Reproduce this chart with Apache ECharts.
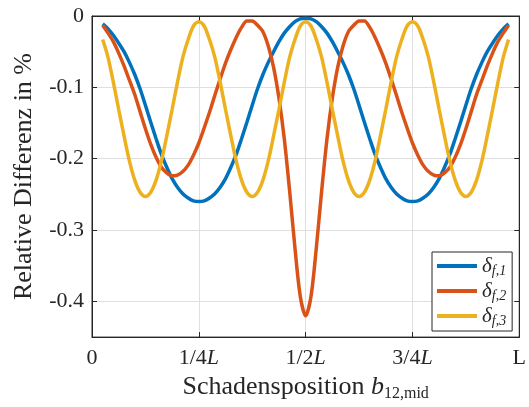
<!DOCTYPE html>
<html>
<head>
<meta charset="utf-8">
<script src="https://cdn.jsdelivr.net/npm/echarts@6/dist/echarts.min.js"></script>
<style>
  html, body { margin: 0; padding: 0; background: #fff; }
  #chart { width: 529px; height: 407px; }
</style>
</head>
<body>
<div id="chart"></div>
<script>
// ---- data (x in units of L, y in %) ----
const xTicks = [0, 0.25, 0.5, 0.75, 1];
const xTickLabels = ['0', '1/4L', '1/2L', '3/4L', 'L'];
const yTicks = [0, -0.1, -0.2, -0.3, -0.4];

const xPos = [0.025, 0.0375, 0.05, 0.0625, 0.075, 0.0875, 0.1, 0.1125, 0.125, 0.1375,
  0.15, 0.1625, 0.175, 0.1875, 0.2, 0.2125, 0.225, 0.2375, 0.25, 0.2625,
  0.275, 0.2875, 0.3, 0.3125, 0.325, 0.3375, 0.35, 0.3625, 0.375, 0.3875,
  0.4, 0.4125, 0.425, 0.4375, 0.45, 0.4625, 0.475, 0.4875, 0.5, 0.5125,
  0.525, 0.5375, 0.55, 0.5625, 0.575, 0.5875, 0.6, 0.6125, 0.625, 0.6375,
  0.65, 0.6625, 0.675, 0.6875, 0.7, 0.7125, 0.725, 0.7375, 0.75, 0.7625,
  0.775, 0.7875, 0.8, 0.8125, 0.825, 0.8375, 0.85, 0.8625, 0.875, 0.8875,
  0.9, 0.9125, 0.925, 0.9375, 0.95, 0.9625, 0.975];

const deltaF1 = [-0.011, -0.018, -0.027, -0.038, -0.050, -0.065, -0.082, -0.102, -0.125, -0.149,
  -0.172, -0.194, -0.212, -0.228, -0.240, -0.249, -0.255, -0.259, -0.260, -0.259,
  -0.255, -0.249, -0.240, -0.228, -0.212, -0.194, -0.172, -0.149, -0.125, -0.102,
  -0.082, -0.065, -0.050, -0.036, -0.024, -0.015, -0.008, -0.004, -0.003, -0.004,
  -0.008, -0.015, -0.024, -0.036, -0.050, -0.065, -0.082, -0.102, -0.125, -0.149,
  -0.172, -0.194, -0.212, -0.228, -0.240, -0.249, -0.255, -0.259, -0.260, -0.259,
  -0.255, -0.249, -0.240, -0.228, -0.212, -0.194, -0.172, -0.149, -0.125, -0.102,
  -0.082, -0.065, -0.050, -0.038, -0.027, -0.018, -0.011];

const deltaF2 = [-0.013, -0.024, -0.036, -0.052, -0.070, -0.090, -0.110, -0.134, -0.158, -0.180,
  -0.198, -0.212, -0.220, -0.224, -0.223, -0.218, -0.209, -0.195, -0.178, -0.157,
  -0.135, -0.111, -0.088, -0.066, -0.047, -0.030, -0.016, -0.007, -0.007, -0.013,
  -0.022, -0.042, -0.072, -0.115, -0.172, -0.245, -0.325, -0.393, -0.420, -0.393,
  -0.325, -0.245, -0.172, -0.115, -0.072, -0.042, -0.022, -0.013, -0.007, -0.007,
  -0.016, -0.030, -0.047, -0.066, -0.088, -0.111, -0.135, -0.157, -0.178, -0.195,
  -0.209, -0.218, -0.223, -0.224, -0.220, -0.212, -0.198, -0.180, -0.158, -0.134,
  -0.110, -0.090, -0.070, -0.052, -0.036, -0.024, -0.013];

const deltaF3 = [-0.033, -0.058, -0.093, -0.131, -0.168, -0.203, -0.230, -0.247, -0.253, -0.247,
  -0.230, -0.203, -0.168, -0.131, -0.093, -0.058, -0.033, -0.014, -0.008, -0.014,
  -0.033, -0.058, -0.093, -0.131, -0.168, -0.203, -0.230, -0.247, -0.253, -0.247,
  -0.230, -0.203, -0.168, -0.131, -0.093, -0.058, -0.033, -0.014, -0.008, -0.014,
  -0.033, -0.058, -0.093, -0.131, -0.168, -0.203, -0.230, -0.247, -0.253, -0.247,
  -0.230, -0.203, -0.168, -0.131, -0.093, -0.058, -0.033, -0.014, -0.008, -0.014,
  -0.033, -0.058, -0.093, -0.131, -0.168, -0.203, -0.230, -0.247, -0.253, -0.247,
  -0.230, -0.203, -0.168, -0.131, -0.093, -0.058, -0.033];

const seriesNames = ['δf,1', 'δf,2', 'δf,3'];
const seriesSubs = ['f,1', 'f,2', 'f,3'];
const colors = ['#0072BD', '#D95319', '#EDB120'];

// ---- chart ----
const FONT = 'Liberation Serif';
const TXT = '#262626';
const chart = echarts.init(document.getElementById('chart'), null, { renderer: 'canvas' });

const pairs = (xs, ys) => xs.map((x, i) => [x, -ys[i]]); // y axis is inverted (shows negative values)

const xCommon = {
  type: 'value', min: 0, max: 1, interval: 0.25, gridIndex: 0,
  axisLine: { show: true, onZero: false, lineStyle: { color: TXT, width: 1 } },
  axisTick: { show: true, inside: true, length: 5, lineStyle: { color: TXT, width: 1 } }
};
const yCommon = {
  type: 'value', inverse: true, min: 0, max: 0.45, interval: 0.1, gridIndex: 0,
  axisLine: { show: true, onZero: false, lineStyle: { color: TXT, width: 1 } },
  axisTick: { show: true, inside: true, length: 5, lineStyle: { color: TXT, width: 1 } }
};

const lineSeries = [
  { name: seriesNames[0], data: pairs(xPos, deltaF1) },
  { name: seriesNames[1], data: pairs(xPos, deltaF2) },
  { name: seriesNames[2], data: pairs(xPos, deltaF3) }
].map((s, i) => Object.assign(s, {
  type: 'line', xAxisIndex: 0, yAxisIndex: 0,
  smooth: 0.3, showSymbol: false, symbol: 'none', clip: false,
  lineStyle: { color: colors[i], width: 3.5 },
  itemStyle: { color: colors[i] }
}));

const option = {
  backgroundColor: '#ffffff',
  animation: false,
  grid: { left: 92, right: 5, top: 16, bottom: 67, show: true, borderColor: TXT, borderWidth: 1, backgroundColor: 'transparent' },
  xAxis: [
    Object.assign({}, xCommon, {
      position: 'bottom',
      splitLine: { show: true, lineStyle: { color: '#dfdfdf', width: 1 } },
      axisLabel: {
        margin: 10, color: TXT, fontFamily: FONT, fontSize: 22,
        formatter: function (v) {
          const idx = xTicks.findIndex(t => Math.abs(t - v) < 1e-9);
          if (idx < 0) return '';
          const lab = xTickLabels[idx];
          if (lab === '0' || lab === 'L') return '{n|' + lab + '}';
          return '{n|' + lab.slice(0, -1) + '}{i|L}';
        },
        rich: {
          n: { fontFamily: FONT, fontSize: 22, color: TXT },
          i: { fontFamily: FONT, fontSize: 22, color: TXT, fontStyle: 'italic' }
        }
      },
      name: '{t|Schadensposition }{b|b}{s|12,mid}',
      nameLocation: 'middle', nameGap: 28,
      nameTextStyle: {
        color: TXT, fontFamily: FONT, fontSize: 26,
        rich: {
          t: { fontFamily: FONT, fontSize: 26, color: TXT, lineHeight: 28, verticalAlign: 'top' },
          b: { fontFamily: FONT, fontSize: 26, color: TXT, lineHeight: 28, verticalAlign: 'top', fontStyle: 'italic' },
          s: { fontFamily: FONT, fontSize: 16, color: TXT, lineHeight: 18, padding: [12, 0, 0, 0] }
        }
      }
    }),
    Object.assign({}, xCommon, {
      position: 'top',
      splitLine: { show: false },
      axisLabel: { show: false }
    })
  ],
  yAxis: [
    Object.assign({}, yCommon, {
      position: 'left',
      splitLine: { show: true, lineStyle: { color: '#dfdfdf', width: 1 } },
      axisLabel: {
        margin: 8, color: TXT, fontFamily: FONT, fontSize: 22, showMaxLabel: false,
        formatter: function (v) {
          const idx = yTicks.findIndex(t => Math.abs(-t - v) < 1e-9);
          if (idx < 0) return '';
          const t = yTicks[idx];
          return t === 0 ? '0' : '-' + Math.abs(t).toFixed(1);
        }
      },
      name: 'Relative Differenz in %',
      nameLocation: 'middle', nameGap: 55, nameRotate: 90,
      nameTextStyle: { color: TXT, fontFamily: FONT, fontSize: 26 }
    }),
    Object.assign({}, yCommon, {
      position: 'right',
      splitLine: { show: false },
      axisLabel: { show: false }
    })
  ],
  legend: {
    orient: 'vertical',
    left: 432, top: 252,
    padding: [2, 6, 3, 5],
    itemGap: 1,
    itemWidth: 40, itemHeight: 4,
    icon: 'rect',
    backgroundColor: '#ffffff',
    borderColor: TXT, borderWidth: 1, borderRadius: 0,
    data: seriesNames,
    formatter: function (name) {
      const i = seriesNames.indexOf(name);
      return '{d|δ}{s|' + seriesSubs[i] + '}';
    },
    textStyle: {
      color: TXT, fontFamily: FONT, fontSize: 21,
      rich: {
        d: { fontFamily: FONT, fontSize: 21, color: TXT, fontStyle: 'italic', lineHeight: 20, verticalAlign: 'top' },
        s: { fontFamily: FONT, fontSize: 14, color: TXT, fontStyle: 'italic', lineHeight: 14, padding: [10, 0, 0, 0] }
      }
    }
  },
  series: lineSeries.concat([
    { name: 'frameTop', type: 'line', xAxisIndex: 1, yAxisIndex: 1, data: [], silent: true, showSymbol: false }
  ])
};
chart.setOption(option);
</script>
</body>
</html>
